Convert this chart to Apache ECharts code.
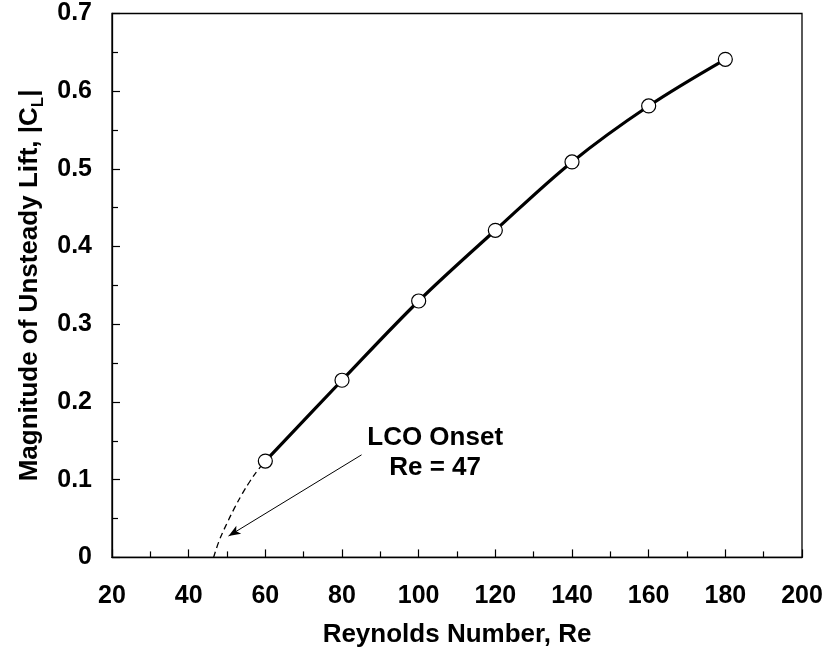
<!DOCTYPE html>
<html>
<head>
<meta charset="utf-8">
<script src="https://cdn.jsdelivr.net/npm/echarts@6/dist/echarts.min.js"></script>
<style>
html,body{margin:0;padding:0;background:#fff;}
#chart{width:827px;height:648px;}
</style>
</head>
<body>
<div id="chart"></div>
<script>
// Data
const reynolds = [60, 80, 100, 120, 140, 160, 180];
const liftMag = [0.124, 0.228, 0.330, 0.421, 0.509, 0.581, 0.641];
// Dashed extrapolation toward LCO onset (Re = 47)
const onsetRe = [46.5, 48, 50, 52, 54, 56, 58, 60];
const onsetLift = [0.0, 0.022, 0.044, 0.064, 0.082, 0.098, 0.112, 0.124];
// Annotation
const arrowFrom = [85.1, 0.132];
const arrowTo = [50.4, 0.0275];
const notePos = [104.3, 0.135];
const noteText = 'LCO Onset\nRe = 47';
const xTicks = [20, 40, 60, 80, 100, 120, 140, 160, 180, 200];
const yTicks = [0, 0.1, 0.2, 0.3, 0.4, 0.5, 0.6, 0.7];

const FONT = '"Liberation Sans", Arial, Helvetica, sans-serif';

const chart = echarts.init(document.getElementById('chart'), null, {renderer: 'canvas'});
const axisCommon = {
  axisLine: {show: true, onZero: false, lineStyle: {color: '#000', width: 1.3}},
  axisTick: {show: true, inside: true, length: 8, lineStyle: {color: '#000', width: 1.2}},
  minorTick: {show: true, splitNumber: 2, length: 6, lineStyle: {color: '#000', width: 1.2}},
  splitLine: {show: false},
  minorSplitLine: {show: false}
};
chart.setOption({
  animation: false,
  backgroundColor: '#fff',
  grid: {
    left: 112, right: 25, top: 13.5, bottom: 90.6,
    show: true, borderColor: '#000', borderWidth: 1.3, backgroundColor: 'transparent',
    containLabel: false, outerBoundsMode: 'none'
  },
  xAxis: Object.assign({
    type: 'value', min: xTicks[0], max: xTicks[xTicks.length - 1], interval: 20,
    name: 'Reynolds Number, Re', nameLocation: 'middle', nameGap: 64,
    nameTextStyle: {fontFamily: FONT, fontWeight: 'bold', fontSize: 26, color: '#000'},
    axisLabel: {margin: 26, fontFamily: FONT, fontWeight: 'bold', fontSize: 25, color: '#000'}
  }, axisCommon),
  yAxis: Object.assign({
    type: 'value', min: yTicks[0], max: yTicks[yTicks.length - 1], interval: 0.1,
    name: '{m|Magnitude of Unsteady Lift, |C}{s|L}{m||}', nameLocation: 'middle', nameGap: 63,
    nameRotate: 90,
    nameTextStyle: {
      fontFamily: FONT, fontWeight: 'bold', fontSize: 26, color: '#000',
      rich: {
        m: {fontFamily: FONT, fontWeight: 'bold', fontSize: 26, color: '#000', lineHeight: 34, verticalAlign: 'middle'},
        s: {fontFamily: FONT, fontWeight: 'bold', fontSize: 17, color: '#000', lineHeight: 17, verticalAlign: 'bottom'}
      }
    },
    axisLabel: {
      margin: 20, fontFamily: FONT, fontWeight: 'bold', fontSize: 25, color: '#000',
      formatter: v => (Math.abs(v) < 1e-9 ? '0' : v.toFixed(1))
    }
  }, axisCommon),
  series: [
    {
      type: 'line', name: 'onset',
      data: onsetRe.map((r, i) => [r, onsetLift[i]]),
      smooth: 0.4, showSymbol: false, symbol: 'none',
      lineStyle: {color: '#000', width: 1.3, type: [6, 4]},
      z: 2,
      markLine: {
        silent: true, animation: false,
        symbol: ['none', 'arrow'], symbolSize: [7, 12],
        lineStyle: {color: '#000', width: 1, type: 'solid'},
        label: {show: false},
        data: [[{coord: arrowFrom}, {coord: arrowTo}]]
      }
    },
    {
      type: 'line', name: 'lift',
      data: reynolds.map((r, i) => [r, liftMag[i]]),
      smooth: 0.35,
      symbol: 'circle', symbolSize: 14, showSymbol: true,
      lineStyle: {color: '#000', width: 3.2},
      itemStyle: {color: '#fff', borderColor: '#000', borderWidth: 1.2},
      z: 3
    },
    {
      type: 'scatter', name: 'note',
      data: [notePos],
      symbol: 'circle', symbolSize: 1,
      itemStyle: {color: 'rgba(0,0,0,0)', opacity: 1},
      label: {
        show: true, position: 'inside', formatter: noteText,
        fontFamily: FONT, fontWeight: 'bold', fontSize: 26, color: '#000',
        textBorderWidth: 0, opacity: 1,
        lineHeight: 30, align: 'center', verticalAlign: 'middle'
      },
      z: 4
    }
  ]
});
</script>
</body>
</html>
